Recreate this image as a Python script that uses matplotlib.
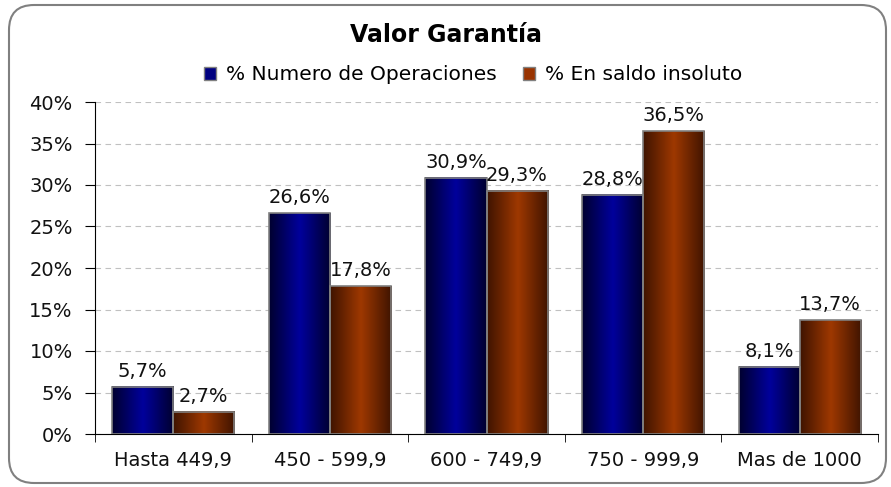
import numpy as np
import matplotlib.pyplot as plt
from matplotlib.patches import FancyBboxPatch, Patch
from matplotlib.colors import LinearSegmentedColormap

plt.rcParams['font.family'] = ['DejaVu Sans']

categorias = ["Hasta 449,9", "450 - 599,9", "600 - 749,9", "750 - 999,9", "Mas de 1000"]
operaciones = [5.7, 26.6, 30.9, 28.8, 8.1]
saldo = [2.7, 17.8, 29.3, 36.5, 13.7]
series = ["% Numero de Operaciones", "% En saldo insoluto"]

fig = plt.figure(figsize=(8.91, 4.87), dpi=100)
ax = fig.add_axes([95/891, 1-434/487, 783/891, 332/487])

# borde redondeado tipo Excel
borde = FancyBboxPatch((0.09, 0.04), 8.77, 4.78,
                       boxstyle="round,pad=0,rounding_size=0.25",
                       transform=fig.dpi_scale_trans, fill=False,
                       edgecolor='#808080', linewidth=1.5)
fig.patches.append(borde)

x = np.arange(len(categorias))
w = 0.39
cmap_azul = LinearSegmentedColormap.from_list('a', ['#000030', '#00009c', '#000030'])
cmap_rojo = LinearSegmentedColormap.from_list('r', ['#401400', '#9e3800', '#401400'])
grad = np.linspace(0, 1, 64).reshape(1, -1)

for valores, cmap, off in [(operaciones, cmap_azul, -w/2), (saldo, cmap_rojo, w/2)]:
    barras = ax.bar(x + off, valores, w, color='none', edgecolor='#808080', linewidth=1.2, zorder=3)
    for b, v in zip(barras, valores):
        x0 = b.get_x()
        ax.imshow(grad, cmap=cmap, extent=[x0, x0 + w, 0, v], aspect='auto', zorder=2)
        ax.text(x0 + w/2, v + 0.7, f"{v:.1f}%".replace('.', ','), ha='center', va='bottom',
                fontsize=14, color='#111111')

ax.set_xlim(-0.5, len(categorias) - 0.5)
ax.set_ylim(0, 40)
ax.set_yticks(np.arange(0, 41, 5))
ax.set_yticklabels([f"{t}%" for t in range(0, 41, 5)], fontsize=14, color='#111111')
ax.set_xticks(x)
ax.set_xticklabels(categorias, fontsize=14, color='#111111')
ax.set_xticks(np.arange(-0.5, len(categorias)), minor=True)
ax.tick_params(axis='x', which='major', length=0, pad=12)
ax.tick_params(axis='x', which='minor', length=6, direction='out')
ax.tick_params(axis='y', length=7, direction='out', pad=9)
ax.grid(axis='y', color='#c0c0c0', linestyle=(0, (5, 4)), linewidth=0.8, zorder=0)
for s in ['top', 'right']:
    ax.spines[s].set_visible(False)
ax.spines['left'].set_color('black')
ax.spines['bottom'].set_color('black')

fig.text(0.5, 1-35/487, "Valor Garantía", ha='center', va='center', fontsize=17, fontweight='bold')
handles = [Patch(facecolor='#000080', edgecolor='#808080'), Patch(facecolor='#993300', edgecolor='#808080')]
fig.legend(handles, series, loc='center', bbox_to_anchor=(473/891, 1-75/487), ncol=2, frameon=False,
           fontsize=14.5, handlelength=0.6, handleheight=0.6, handletextpad=0.5, columnspacing=1.3)

plt.savefig('out.png', dpi=100)
